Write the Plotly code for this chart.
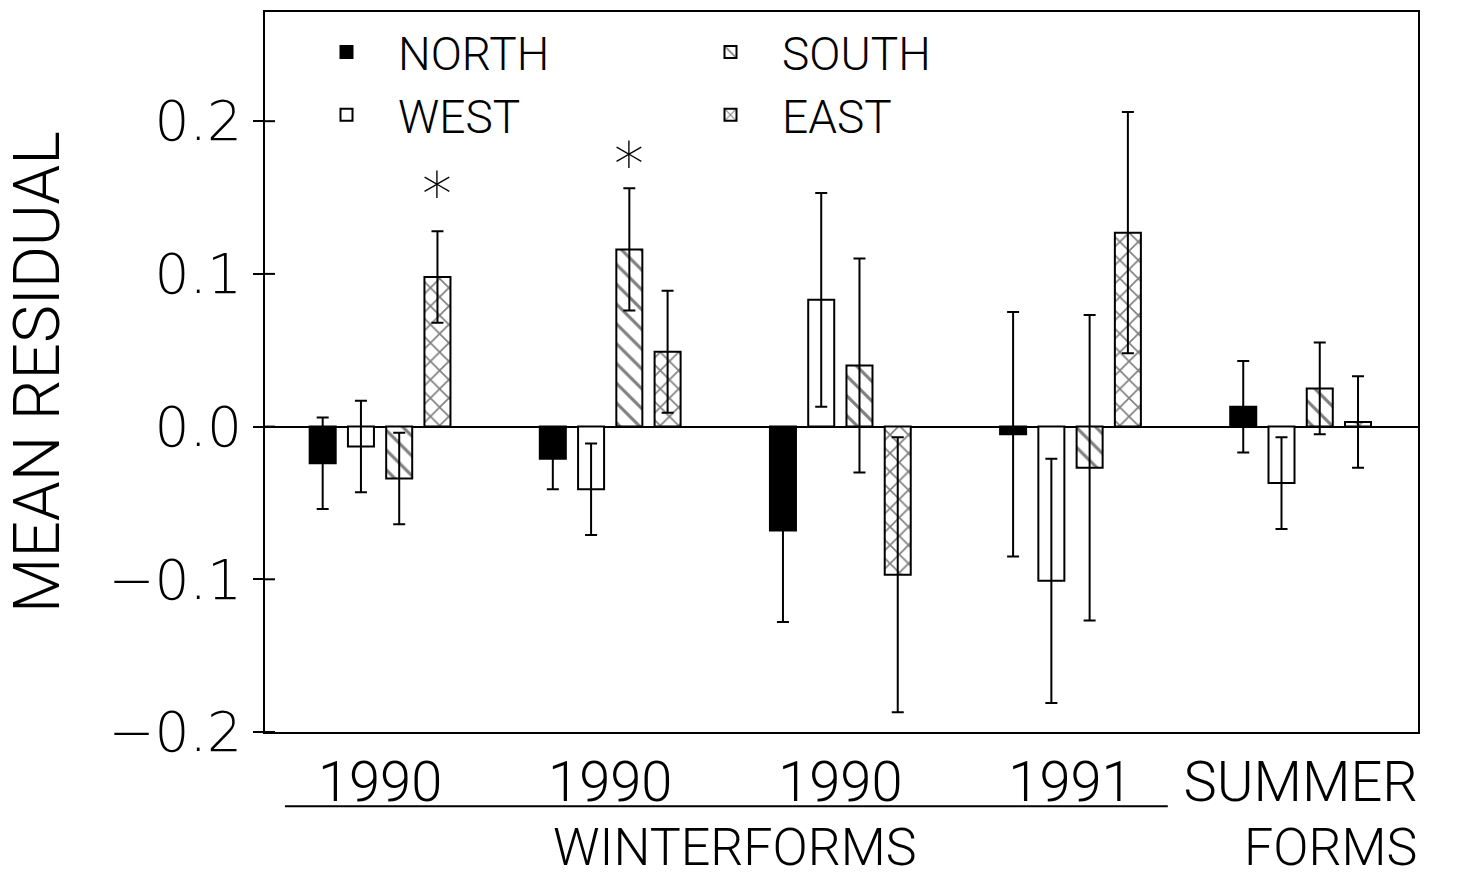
import plotly.graph_objects as go

# Group labels along the x axis (five sampling groups)
group_labels = ["1990", "1990", "1990", "1991", "SUMMER"]
group_pos = [0, 1, 2, 3, 4]

# Mean residuals and their error half-widths for each exposure
north = [-0.024, -0.021, -0.068, -0.005, 0.013]
north_err = [0.030, 0.020, 0.060, 0.080, 0.030]

west = [-0.013, -0.041, 0.083, -0.101, -0.037]
west_err = [0.030, 0.030, 0.070, 0.080, 0.030]

south = [-0.034, 0.116, 0.040, -0.027, 0.025]
south_err = [0.030, 0.040, 0.070, 0.100, 0.030]

east = [0.098, 0.049, -0.097, 0.127, 0.003]
east_err = [0.030, 0.040, 0.090, 0.079, 0.030]

# Significance markers: (group index, series index, y position)
star_marks = [(0, 3, 0.152), (1, 2, 0.172)]

y_ticks = [-0.2, -0.1, 0.0, 0.1, 0.2]

BLACK = "#000000"
FONT = "Roboto, Liberation Sans, Arial, sans-serif"
THIN = 300

bargap = 0.335
bargroupgap = 0.32
n_series = 4
slot = (1 - bargap) / n_series

series = [
    ("NORTH", north, north_err, dict(color=BLACK)),
    ("WEST", west, west_err, dict(color="white")),
    ("SOUTH", south, south_err,
     dict(color="white", pattern=dict(shape="\\", fgcolor=BLACK, bgcolor="white",
                                      size=14, solidity=0.22))),
    ("EAST", east, east_err,
     dict(color="white", pattern=dict(shape="x", fgcolor=BLACK, bgcolor="white",
                                      size=13, solidity=0.24))),
]
legend_rank = {"NORTH": 1, "SOUTH": 2, "WEST": 3, "EAST": 4}

fig = go.Figure()
for name, vals, errs, fill in series:
    fig.add_trace(go.Bar(
        x=group_pos, y=vals, name=name,
        marker=dict(**fill, line=dict(color=BLACK, width=2)),
        error_y=dict(type="data", array=errs, visible=True,
                     color=BLACK, thickness=2, width=6),
        legendrank=legend_rank[name],
    ))

annotations = []
for g, s, ypos in star_marks:
    xoff = -0.5 * (1 - bargap) + slot * (s + 0.5)
    annotations.append(dict(
        x=group_pos[g] + xoff, y=ypos, xref="x", yref="y", text="*",
        showarrow=False,
        font=dict(family="DejaVu Sans, sans-serif", size=60, color=BLACK, weight=THIN),
        yanchor="middle", xanchor="center",
    ))

# second-line captions under the group labels
for text, xp in [("WINTERFORMS", 0.4076), ("FORMS", 0.9237)]:
    annotations.append(dict(
        x=xp, y=-0.2056, xref="paper", yref="paper", text=text,
        showarrow=False, font=dict(family=FONT, size=52, color=BLACK, weight=THIN),
        xanchor="center", yanchor="bottom",
    ))

shapes = [
    # rule under the winter-form years
    dict(type="line", xref="paper", yref="paper", x0=0.0173, x1=0.783,
         y0=-0.103, y1=-0.103, line=dict(color=BLACK, width=2)),
]
# inward halves of the y-axis ticks
for t in y_ticks:
    shapes.append(dict(type="line", xref="paper", yref="y", x0=0, x1=10 / 1153,
                       y0=t, y1=t, line=dict(color=BLACK, width=2)))

fig.update_layout(
    width=1459, height=882,
    margin=dict(l=265, r=41, t=12, b=150),
    paper_bgcolor="white", plot_bgcolor="white",
    barmode="group", bargap=bargap, bargroupgap=bargroupgap,
    font=dict(family=FONT, color=BLACK, weight=THIN),
    showlegend=True,
    legend=dict(
        orientation="h", x=0.03, y=0.995, xanchor="left", yanchor="top",
        font=dict(family=FONT, size=46, color=BLACK, weight=THIN),
        entrywidth=276, entrywidthmode="pixels",
        bgcolor="rgba(0,0,0,0)", traceorder="normal",
        itemwidth=93,
    ),
    annotations=annotations,
    shapes=shapes,
)

fig.update_xaxes(
    range=[-0.5, 4.51], automargin=False,
    tickmode="array", tickvals=group_pos, ticktext=group_labels,
    ticks="", tickfont=dict(family=FONT, size=56, color=BLACK, weight=THIN),
    ticklabelstandoff=0,
    showline=True, linecolor=BLACK, linewidth=2, mirror=True,
    showgrid=False, zeroline=False,
)
fig.update_yaxes(
    range=[-0.2, 0.2715], automargin=False,
    tickmode="array", tickvals=y_ticks, tickformat=".1f",
    ticks="outside", ticklen=10, tickwidth=2, tickcolor=BLACK,
    tickfont=dict(family="DejaVu Sans, sans-serif", size=55, color=BLACK, weight=THIN),
    ticklabelstandoff=0,
    showline=True, linecolor=BLACK, linewidth=2, mirror=True,
    showgrid=False,
    zeroline=True, zerolinecolor=BLACK, zerolinewidth=2,
    title=dict(text="MEAN RESIDUAL", standoff=28,
               font=dict(family=FONT, size=64, color=BLACK, weight=THIN)),
)

fig.write_html("out.html")
